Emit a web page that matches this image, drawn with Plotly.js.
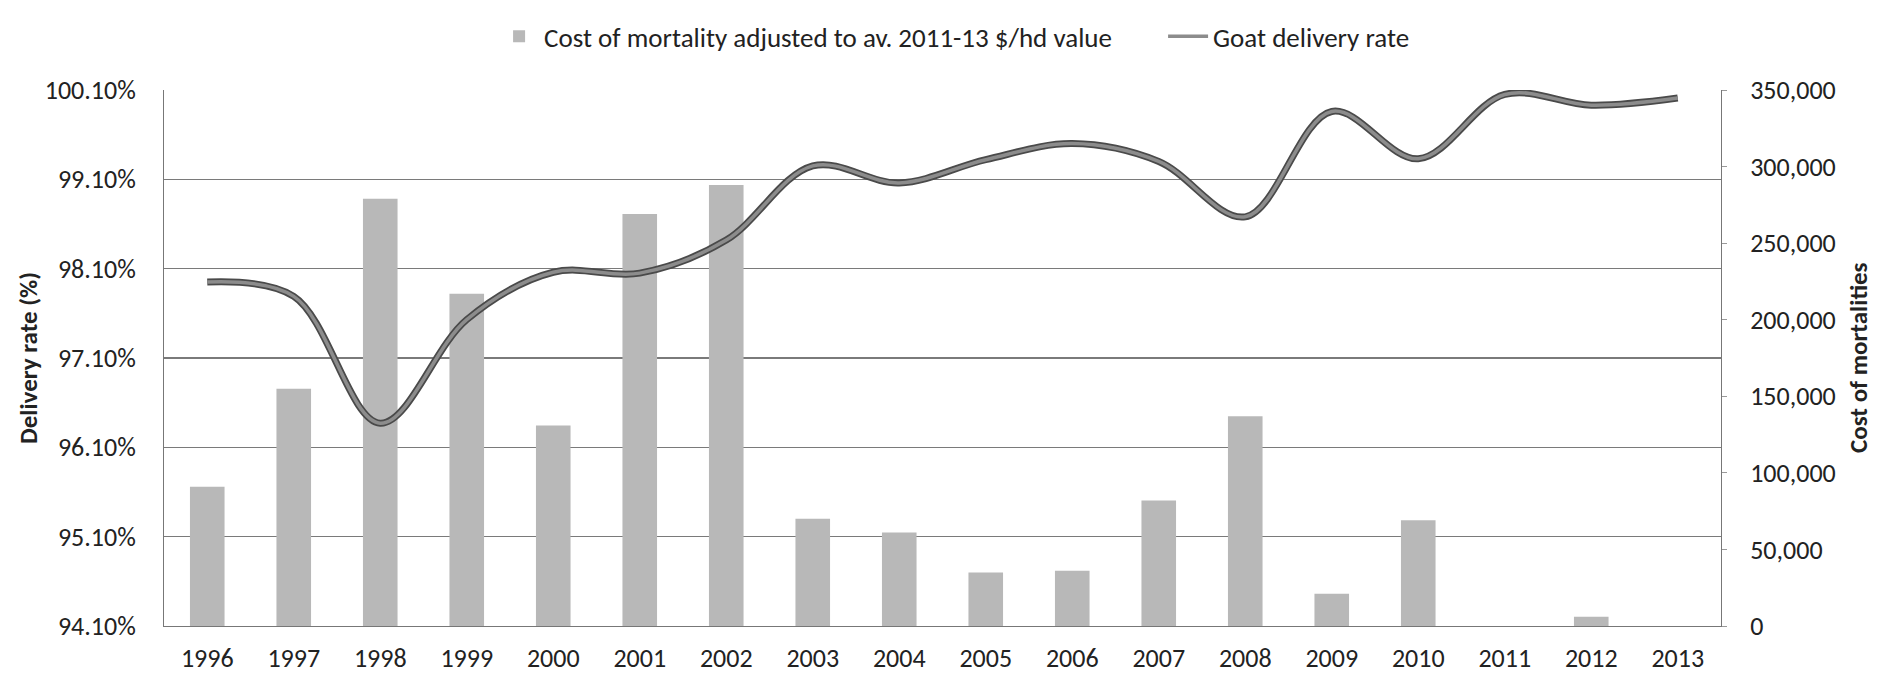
<!DOCTYPE html>
<html>
<head>
<meta charset="utf-8">
<script src="https://cdn.plot.ly/plotly-3.0.1.min.js"></script>
<style>html,body{margin:0;padding:0;background:#fff;}#chart{width:1885px;height:677px;}</style>
</head>
<body>
<div id="chart"></div>
<script>
const years = ['1996','1997','1998','1999','2000','2001','2002','2003','2004','2005','2006','2007','2008','2009','2010','2011','2012','2013'];
const mortalityCost = [91000,155000,279000,217000,131000,269000,288000,70000,61000,35000,36000,82000,137000,21000,69000,0,6000,0];
const deliveryRate = [97.95,97.79,96.37,97.53,98.06,98.05,98.42,99.25,99.06,99.32,99.50,99.30,98.68,99.86,99.33,100.05,99.93,100.01];
const barName = 'Cost of mortality adjusted to av. 2011-13 $/hd value';
const lineName = 'Goat delivery rate';
const leftTitle = 'Delivery rate (%)';
const rightTitle = 'Cost of mortalities';

const FONT = "Carlito, 'Liberation Sans Narrow', Lato, 'Open Sans', sans-serif";

const traces = [
  {type:'bar', x:years, y:mortalityCost, name:barName, yaxis:'y',
   marker:{color:'#b8b8b8'}, width:0.4},
  {type:'scatter', mode:'lines', x:years, y:deliveryRate, yaxis:'y2', showlegend:false,
   line:{color:'#4a4a4a', width:7, shape:'spline', smoothing:1}, hoverinfo:'skip'},
  {type:'scatter', mode:'lines', x:years, y:deliveryRate, yaxis:'y2', name:lineName,
   line:{color:'#8c8c8c', width:3.5, shape:'spline', smoothing:1}}
];

const layout = {
  width:1885, height:677,
  margin:{l:164, r:164, t:80, b:51},
  paper_bgcolor:'#fff', plot_bgcolor:'#fff',
  font:{family:FONT, size:26, color:'#222'},
  showlegend:true,
  legend:{orientation:'h', x:0.212, xanchor:'left', y:1.145, yanchor:'top',
          font:{family:FONT, size:27, color:'#222'}, itemwidth:40, tracegroupgap:0,
          entrywidth:614, entrywidthmode:'pixels'},
  xaxis:{type:'category', showgrid:false, showline:true, linecolor:'#777', linewidth:1,
         ticks:'', ticklabelstandoff:9, tickfont:{family:FONT, size:26, color:'#222'}},
  yaxis:{side:'right', range:[0,350000], dtick:50000, tick0:0, tickformat:',d',
         showgrid:false, showline:true, linecolor:'#777', linewidth:1,
         ticks:'outside', ticklen:5, tickcolor:'#999', ticklabelstandoff:18,
         tickfont:{family:FONT, size:26, color:'#222'}, zeroline:false},
  yaxis2:{overlaying:'y', side:'left', range:[94.1,100.1], dtick:1, tick0:94.1,
          tickformat:'.2f', ticksuffix:'%', showgrid:true, gridcolor:'#7a7a7a', gridwidth:1.3,
          showline:true, linecolor:'#777', linewidth:1, mirror:true, ticks:'', ticklabelstandoff:22,
          tickfont:{family:FONT, size:26, color:'#222'}, zeroline:false},
  bargap:0.6,
  annotations:[
    {text:'<b>'+leftTitle+'</b>', xref:'paper', yref:'paper', x:-0.0873, y:0.5, textangle:-90,
     showarrow:false, xanchor:'center', yanchor:'middle', font:{family:FONT, size:25, color:'#222'}},
    {text:'<b>'+rightTitle+'</b>', xref:'paper', yref:'paper', x:1.088, y:0.5, textangle:-90,
     showarrow:false, xanchor:'center', yanchor:'middle', font:{family:FONT, size:25, color:'#222'}}
  ]
};

Plotly.newPlot('chart', traces, layout, {displayModeBar:false, staticPlot:true});
</script>
</body>
</html>
